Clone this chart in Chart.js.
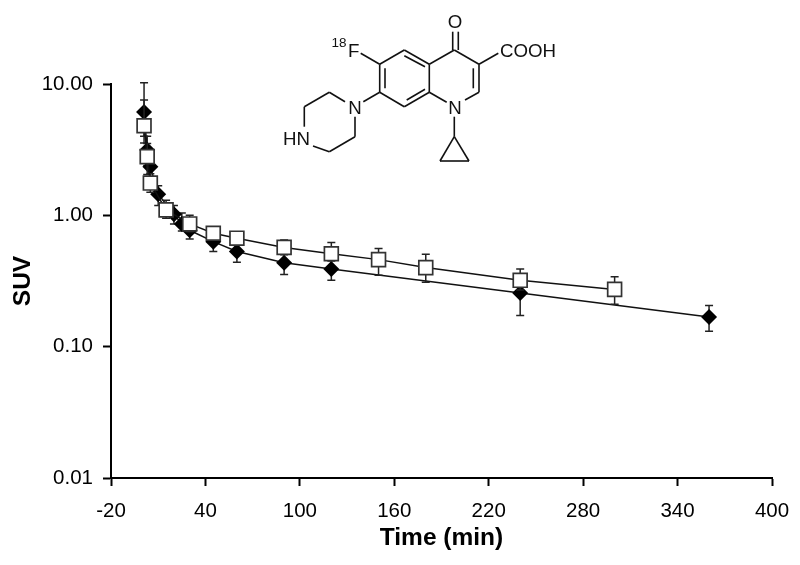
<!DOCTYPE html>
<html>
<head>
<meta charset="utf-8">
<title>SUV over time</title>
<script src="https://cdn.jsdelivr.net/npm/chart.js@4"></script>
<style>
  html, body { margin: 0; padding: 0; background: #fff; }
  #wrap { position: relative; width: 800px; height: 565px; }
  #myChart { display: block; }
  #structure { position: absolute; left: 0; top: 0; }
  #structure line { stroke: #111; stroke-width: 1.6; }
  #structure text { font-family: "Liberation Sans", Arial, sans-serif; font-size: 18.7px; fill: #111; }
</style>
</head>
<body>
<div id="wrap">
  <canvas id="myChart" width="800" height="565"></canvas>
  <!-- compound structure, drawing only -->
  <svg id="structure" width="800" height="170" viewBox="0 0 800 170">
    <line x1="452.7" y1="31.7" x2="452.7" y2="50"/><line x1="458.3" y1="31.7" x2="458.3" y2="50"/>
    <line x1="454.3" y1="50" x2="479" y2="64.3"/><line x1="479" y1="64.3" x2="479" y2="92.3"/>
    <line x1="473.3" y1="68.3" x2="473.3" y2="88.3"/><line x1="479" y1="92.3" x2="465" y2="100"/>
    <line x1="446.7" y1="102.3" x2="429.3" y2="92.3"/><line x1="429.3" y1="92.3" x2="429.3" y2="64.3"/>
    <line x1="429.3" y1="64.3" x2="454.3" y2="50"/><line x1="429.3" y1="64.3" x2="404.3" y2="50"/>
    <line x1="404.3" y1="55.7" x2="425" y2="66.7"/><line x1="404.3" y1="50" x2="379.7" y2="64.3"/>
    <line x1="379.7" y1="64.3" x2="379.7" y2="92.3"/><line x1="385" y1="68.3" x2="385" y2="88.3"/>
    <line x1="379.7" y1="92.3" x2="404.3" y2="106.7"/><line x1="404.3" y1="106.7" x2="429.3" y2="92.3"/>
    <line x1="406.7" y1="100" x2="425" y2="89.3"/><line x1="379.7" y1="64.3" x2="360.7" y2="53.3"/>
    <line x1="479" y1="64.3" x2="498.3" y2="53.3"/><line x1="379.7" y1="92.3" x2="363.3" y2="101.7"/>
    <line x1="345" y1="101.7" x2="329.3" y2="92.3"/><line x1="329.3" y1="92.3" x2="304.3" y2="106.7"/>
    <line x1="304.3" y1="106.7" x2="304.3" y2="126.7"/><line x1="313" y1="146" x2="329.3" y2="151.7"/>
    <line x1="329.3" y1="151.7" x2="355" y2="136.7"/><line x1="355" y1="136.7" x2="355" y2="116.7"/>
    <line x1="454.3" y1="116.7" x2="454.3" y2="136.7"/><line x1="454.3" y1="136.7" x2="440" y2="161"/>
    <line x1="440" y1="161" x2="469" y2="161"/><line x1="469" y1="161" x2="454.3" y2="136.7"/>
    <text x="455" y="27.5" text-anchor="middle">O</text>
    <text x="500" y="57">COOH</text>
    <text x="348" y="57">F</text>
    <text x="331.5" y="47" style="font-size:13.5px">18</text>
    <text x="455" y="114" text-anchor="middle">N</text>
    <text x="355" y="114" text-anchor="middle">N</text>
    <text x="283" y="144.5">HN</text>
  </svg>
</div>
<script>
var diamondTimes = [1, 3, 5, 10, 20, 25, 30, 45, 60, 90, 120, 240, 360];
var diamondSuv   = [6.12, 3.14, 2.34, 1.45, 1.02, 0.86, 0.77, 0.63, 0.53, 0.435, 0.39, 0.256, 0.168];
var diamondUpper = [10.2, 4.0, 2.9, 1.68, 1.19, 1.04, 0.92, 0.75, 0.63, 0.54, 0.46, 0.33, 0.206];
var diamondLower = [3.55, 2.4, 1.7, 1.19, 0.86, 0.76, 0.66, 0.53, 0.44, 0.355, 0.32, 0.173, 0.131];

var squareTimes = [1, 3, 5, 15, 30, 45, 60, 90, 120, 150, 180, 240, 300];
var squareSuv   = [4.81, 2.8, 1.76, 1.1, 0.86, 0.73, 0.67, 0.57, 0.51, 0.46, 0.4, 0.32, 0.273];
var squareUpper = [7.55, 3.53, 2.07, 1.3, 1.0, 0.8, 0.75, 0.65, 0.62, 0.56, 0.505, 0.39, 0.34];
var squareLower = [4.0, 2.05, 1.5, 0.95, 0.75, 0.65, 0.6, 0.5, 0.45, 0.35, 0.31, 0.27, 0.21];

var yTicks = [0.01, 0.1, 1, 10];

function toPoints(times, values, upper, lower) {
  var pts = [];
  for (var i = 0; i < times.length; i++) {
    pts.push({ x: times[i], y: values[i], up: upper[i], low: lower[i] });
  }
  return pts;
}

// error bars go down just before each series, so its own markers sit on top
var errorBars = {
  id: 'errorBars',
  beforeDatasetDraw: function(chart, args) {
    var ctx = chart.ctx;
    var xs = chart.scales.x, ys = chart.scales.y;
    ctx.save();
    ctx.strokeStyle = '#222';
    ctx.lineWidth = 1.5;
    for (var p of chart.data.datasets[args.index].data) {
      var px = xs.getPixelForValue(p.x);
      var top = ys.getPixelForValue(p.up), bottom = ys.getPixelForValue(p.low);
      ctx.beginPath();
      ctx.moveTo(px, top); ctx.lineTo(px, bottom);
      ctx.moveTo(px - 4, top); ctx.lineTo(px + 4, top);
      ctx.moveTo(px - 4, bottom); ctx.lineTo(px + 4, bottom);
      ctx.stroke();
    }
    ctx.restore();
  }
};

var tickFont = { family: '"Liberation Sans", Arial, sans-serif', size: 20.5 };
var titleFont = { family: '"Liberation Sans", Arial, sans-serif', size: 24.5, weight: 'bold' };

new Chart(document.getElementById('myChart').getContext('2d'), {
  type: 'scatter',
  data: {
    datasets: [
      {
        label: 'Square',
        data: toPoints(squareTimes, squareSuv, squareUpper, squareLower),
        showLine: true,
        order: 1,
        borderColor: '#111',
        borderWidth: 1.5,
        tension: 0,
        pointStyle: 'rect',
        pointRadius: 9.8,
        pointBackgroundColor: '#fff',
        pointBorderColor: '#333',
        pointBorderWidth: 1.7
      },
      {
        label: 'Diamond',
        data: toPoints(diamondTimes, diamondSuv, diamondUpper, diamondLower),
        showLine: true,
        order: 2,
        borderColor: '#111',
        borderWidth: 1.5,
        tension: 0,
        pointStyle: 'rectRot',
        pointRadius: 8,
        pointBackgroundColor: '#000',
        pointBorderColor: '#000',
        pointBorderWidth: 0
      }
    ]
  },
  options: {
    responsive: false,
    animation: false,
    layout: { padding: { top: 84, right: 28, left: 0, bottom: 0 } },
    plugins: { legend: { display: false }, tooltip: { enabled: false } },
    scales: {
      x: {
        type: 'linear',
        min: -20,
        max: 400,
        afterFit: function(scale) {
          scale.height = 87;
          scale.paddingLeft = 0;
          scale.paddingRight = 0;
        },
        border: { color: '#000', width: 2 },
        grid: { drawOnChartArea: false, tickColor: '#000', tickWidth: 2, tickLength: 8 },
        ticks: { stepSize: 60, color: '#000', font: tickFont, maxRotation: 0, padding: 13 },
        title: { display: true, text: 'Time (min)', color: '#000', font: titleFont, padding: { top: 0, bottom: 12 } }
      },
      y: {
        type: 'logarithmic',
        min: 0.01,
        max: 10,
        afterFit: function(scale) {
          scale.width = 111;
          scale.paddingTop = 0;
          scale.paddingBottom = 0;
        },
        afterBuildTicks: function(scale) {
          scale.ticks = yTicks.map(function(v) { return { value: v, major: true }; });
        },
        border: { color: '#000', width: 2 },
        grid: { drawOnChartArea: false, tickColor: '#000', tickWidth: 2, tickLength: 8 },
        ticks: {
          color: '#000',
          font: tickFont,
          padding: 10,
          callback: function(v) { return Number(v).toFixed(2); }
        },
        title: { display: true, text: 'SUV', color: '#000', font: titleFont, padding: { top: 9, bottom: 0 } }
      }
    }
  },
  plugins: [errorBars]
});
</script>
</body>
</html>
